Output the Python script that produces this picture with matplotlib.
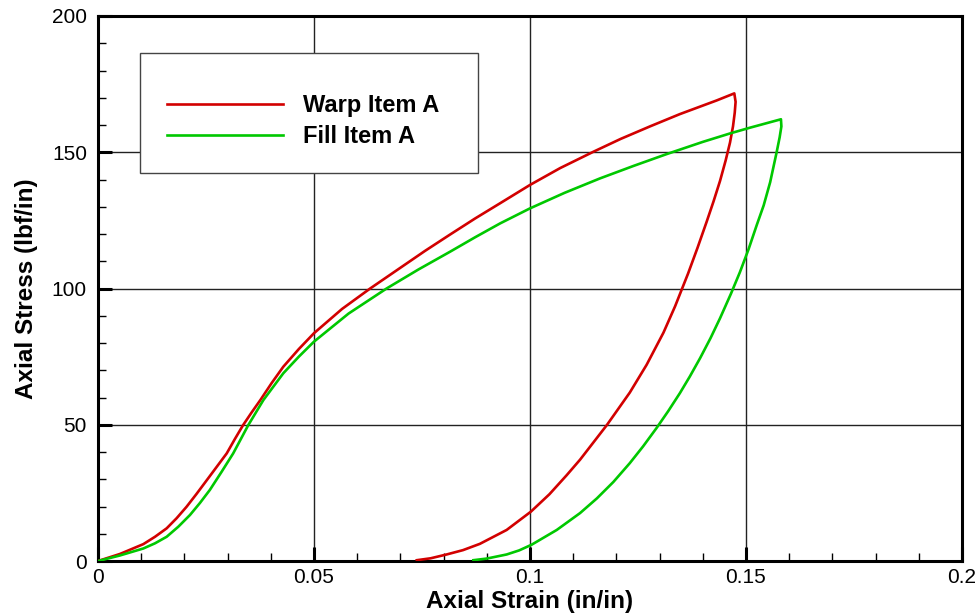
import matplotlib
matplotlib.use("Agg")
import matplotlib.pyplot as plt
from matplotlib.patches import Rectangle
from matplotlib.ticker import MultipleLocator, FixedLocator

plt.rcParams['font.family'] = ['Liberation Sans', 'DejaVu Sans']

# warp direction: loading branch then unloading branch
warp_strain = [0.0, 0.0051, 0.0105, 0.0132, 0.0159, 0.0182, 0.0205, 0.0228, 0.0252,
               0.0275, 0.0298, 0.0317, 0.0336, 0.0356, 0.0376, 0.0402, 0.0429,
               0.0465, 0.05, 0.0565, 0.063, 0.0699, 0.0757, 0.0815, 0.0873,
               0.0931, 0.1, 0.107, 0.1147, 0.121, 0.1278, 0.1347, 0.1432, 0.1473,
               0.1476, 0.1474, 0.1470, 0.1463, 0.1453, 0.1440, 0.1425, 0.1409,
               0.1388, 0.1366, 0.1336, 0.1309, 0.1270, 0.1231, 0.1178, 0.1116,
               0.1085, 0.1045, 0.1002, 0.0946, 0.0884, 0.0845, 0.0807, 0.0770,
               0.0738]
warp_stress = [0.0, 2.6, 6.2, 8.9, 12.0, 15.7, 19.9, 24.6, 29.7,
               34.6, 39.5, 44.8, 49.9, 54.6, 59.1, 65.3, 71.3,
               77.8, 83.6, 92.5, 100.0, 107.5, 113.8, 119.8, 125.7,
               131.3, 138.0, 144.2, 150.2, 154.9, 159.5, 164.0, 169.0, 171.6,
               168.5, 164.5, 159.5, 153.5, 147.0, 139.5, 132.0, 124.5,
               115.0, 105.5, 93.5, 83.8, 72.0, 61.8, 49.9, 37.2,
               31.5, 24.5, 18.1, 11.4, 6.3, 4.0, 2.4, 1.0,
               0.3]

# fill direction
fill_strain = [0.0, 0.005, 0.0105, 0.0132, 0.0159, 0.0186, 0.0213, 0.0236, 0.0259,
               0.0286, 0.0313, 0.0348, 0.0383, 0.0429, 0.0465, 0.05, 0.058,
               0.0668, 0.0742, 0.0815, 0.0873, 0.0931, 0.1, 0.108, 0.1162,
               0.124, 0.1316, 0.14, 0.1463, 0.1509, 0.1581,
               0.1582, 0.1578, 0.1571, 0.1556, 0.1541, 0.1525, 0.1506, 0.1486,
               0.1465, 0.1440, 0.1418, 0.1394, 0.1370, 0.1347, 0.1320, 0.1293,
               0.1262, 0.1231, 0.1193, 0.1155, 0.1116, 0.1062, 0.1004, 0.0975,
               0.0946, 0.0900, 0.0869]
fill_stress = [0.0, 2.0, 4.6, 6.5, 8.9, 12.6, 16.9, 21.3, 26.1,
               32.7, 39.5, 49.9, 59.1, 68.9, 75.0, 80.5, 90.8,
               100.0, 107.0, 113.5, 118.8, 123.9, 129.4, 135.1, 140.4,
               145.0, 149.3, 153.8, 156.9, 159.0, 162.1,
               159.5, 155.5, 150.0, 139.0, 130.5, 123.3, 114.4, 106.0,
               98.0, 89.1, 81.8, 74.5, 67.7, 61.6, 55.0, 48.8,
               42.1, 35.9, 29.0, 23.0, 17.6, 11.4, 6.0, 3.9,
               2.4, 0.9, 0.3]

x_ticks = [0, 0.05, 0.1, 0.15, 0.2]
x_tick_labels = ['0', '0.05', '0.1', '0.15', '0.2']
y_ticks = [0, 50, 100, 150, 200]

fig = plt.figure(figsize=(9.77, 6.13), dpi=100)
ax = fig.add_axes([0.1003, 0.0848, 0.8843, 0.8891])

ax.plot(warp_strain, warp_stress, color='#d20000', lw=1.9, label='Warp Item A', zorder=3)
ax.plot(fill_strain, fill_stress, color='#00c800', lw=1.9, label='Fill Item A', zorder=3)

ax.set_xlim(0, 0.2)
ax.set_ylim(0, 200)
ax.xaxis.set_major_locator(FixedLocator(x_ticks))
ax.set_xticklabels(x_tick_labels)
ax.xaxis.set_minor_locator(MultipleLocator(0.01))
ax.yaxis.set_major_locator(FixedLocator(y_ticks))
ax.yaxis.set_minor_locator(MultipleLocator(10))

ax.tick_params(which='major', direction='in', length=10, width=2.2, labelsize=15)
ax.tick_params(which='minor', direction='in', length=6, width=1)
ax.tick_params(axis='x', which='major', pad=5)
ax.tick_params(axis='y', which='major', pad=8)

for s in ax.spines.values():
    s.set_linewidth(2.2)
    s.set_color('black')

ax.grid(which='major', color='#222222', lw=1)
ax.set_axisbelow(True)

ax.set_xlabel('Axial Strain (in/in)', fontsize=17.5, fontweight='bold', labelpad=2)
ax.set_ylabel('Axial Stress (lbf/in)', fontsize=17.5, fontweight='bold', labelpad=10)

# legend box drawn separately so the entries can sit off-centre inside it
ax.add_patch(Rectangle((0.0486, 0.712), 0.391, 0.22, transform=ax.transAxes,
                       facecolor='white', edgecolor='#444444', lw=1, zorder=4))
leg = ax.legend(loc='center left', bbox_to_anchor=(0.0799, 0.807),
                borderaxespad=0, borderpad=0, frameon=False,
                prop={'weight': 'bold', 'size': 17}, handlelength=4.9,
                handletextpad=0.85, labelspacing=0.36)
leg.set_zorder(5)

fig.savefig('out.png', dpi=100)
